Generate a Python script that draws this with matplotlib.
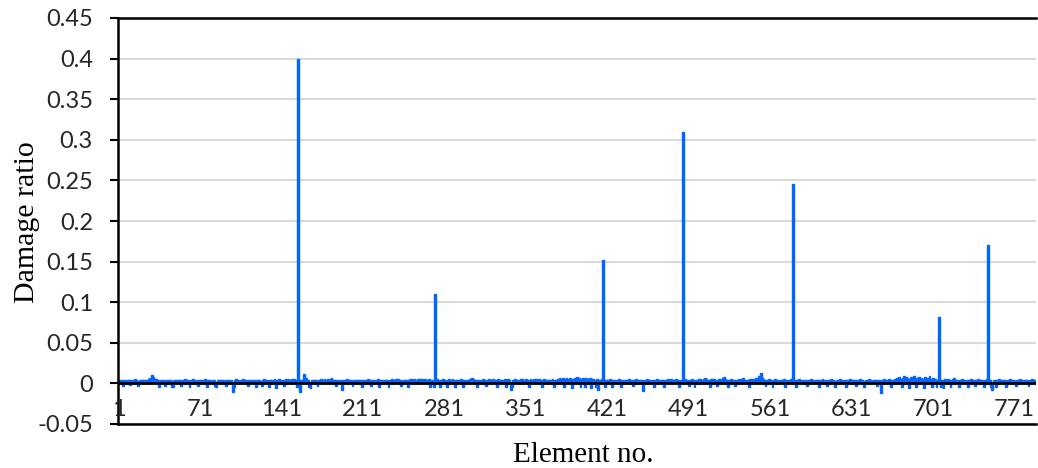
import numpy as np
import matplotlib
matplotlib.use("Agg")
import matplotlib.pyplot as plt

# small background values per element, in units of 0.001 (rough)
noise = [
    4, 4, 3, 4, -3, 4, 4, 3, 4, 4, -2, 4, 4, 4, 5, 4, 3, -3, 4, 4, 4, 4, 3, 4, 4, 4, 5, 7, 4, 10,
    8, 5, 6, 4, 4, -4, 4, 4, 4, 3, -3, 4, 4, 4, 4, 3, -4, -5, 4, 4, 4, 3, 4, 4, -3, 4, 4, 5, 4, 4,
    4, -4, 4, 4, 5, 4, 3, 4, -3, 4, 4, 4, 3, 4, 5, 4, -4, 4, 4, 4, 3, 4, 4, -3, -4, 4, 4, 4, 3, 4,
    4, 4, -3, 4, 4, 3, 4, 4, -10, -4, 4, 5, 4, 4, 3, 4, 4, 5, 4, 4, 4, -3, 4, 4, 3, 4, 4, 4, -4, 4,
    4, 4, 3, -3, 4, 5, 4, 4, 4, -4, 4, 4, 3, 4, 5, -6, 4, 4, 5, 4, 4, 4, -3, 4, 5, 4, 6, 4, 4, 6,
    4, 5, 4, -5, 0, 4, -10, 4, 4, 11, 5, 7, 4, 4, -4, -6, 4, 4, 3, 4, 4, -3, 4, 4, 5, 4, 4, 6, 4, 4,
    5, 4, 6, 7, 4, 4, 4, -3, 4, 4, 3, 4, -8, 4, 4, 4, 5, 4, 3, 4, 4, -3, 4, 4, 4, 3, 4, 4, 4, -4,
    4, 4, 3, 4, 5, 4, 4, -3, 4, 4, 3, 4, 4, 5, -5, 4, 4, 4, 3, 4, 4, 4, -4, 4, 4, 5, 4, 4, 5, 6,
    6, 4, 4, -3, 4, 4, 3, 4, 4, -4, 5, 6, 4, 4, 5, 4, 4, 6, 5, 4, 6, 5, 4, 6, 4, 4, 4, 5, -4, 4,
    4, -5, 0, 4, 5, 4, -5, 4, 4, 6, 4, 4, -4, 4, 5, 4, 4, 6, 4, -5, 4, 4, 4, 3, 5, 4, -4, 4, 4, 4,
    4, 4, 5, 6, 7, 5, 4, 4, -4, 4, 4, 3, 4, 5, 4, 4, -3, 4, 5, 4, 4, 4, 6, 4, 4, -4, 5, 4, 4, 4,
    4, 4, 5, -4, 4, 6, 4, -8, -5, 4, 4, 5, 4, 4, 3, 4, 6, 5, 4, 4, 6, 4, 4, -4, 5, 4, 4, 6, 4, 5,
    4, 6, 4, 4, -4, 4, 5, 4, 4, 4, 3, 4, 4, 5, -5, 4, 4, 4, 6, 7, 5, 6, 7, -5, 5, 7, 6, 4, 7, 6,
    -6, 6, 7, 5, 8, 6, 7, -5, 5, 7, 6, -5, 7, 6, 5, 7, -6, 6, 5, 4, -5, 5, -8, 4, 4, 5, 0, 4, -4, 4,
    4, 4, 5, 4, -4, 4, 4, 3, 4, 4, 5, 4, -4, 4, 4, 4, 3, 4, 4, 5, 4, 4, -3, 4, 4, 5, 4, 4, 3, 4,
    4, -9, 4, 4, 5, 4, 4, 4, 3, 4, -4, 4, 4, 5, 4, 4, 3, 4, 4, -4, 4, 4, 5, 4, 4, 6, 4, 4, 4, 5,
    4, 4, -4, 4, 4, 0, 4, 5, 4, 4, -3, 4, 4, 5, 4, -5, 4, 4, 4, 5, 6, 4, 4, 5, 7, 6, 4, 4, -4, 5,
    4, 6, 5, 4, -3, 4, 5, 6, 4, 7, 8, 5, 4, 4, -4, 4, 5, 4, 4, 4, -3, 4, 4, 5, 4, 4, 5, 7, 4, 4,
    4, 4, -4, 5, 6, 4, 5, 6, 7, 4, 9, 9, 13, 7, 5, 4, -3, 4, 4, 5, 4, 4, -4, 4, 5, 4, 4, 3, 4, 4,
    4, 4, 5, -4, 4, 4, 3, 4, 5, 4, 0, 4, -5, 4, 4, 5, 4, 4, 4, 3, 4, 4, -3, 4, 4, 5, 4, 4, 3, 4,
    4, 4, -4, 4, 4, 5, 4, 3, 4, -3, 4, 4, 5, 4, 4, 3, -4, 4, 4, 4, 5, 4, 4, 3, 4, -4, 4, 4, 4, 5,
    4, 4, 3, 4, -3, 4, 4, 5, 4, 4, 3, -4, 4, 4, 4, 5, 4, 4, 3, 4, 4, 4, -3, 4, 4, -12, 4, 4, 5, 4,
    4, 4, 5, 4, -4, 4, 4, 5, 6, 7, 5, 8, 6, -5, 7, 9, 6, 8, 7, -6, 6, 8, 7, 6, 9, -5, 7, 6, 8, 5,
    7, 6, -6, 8, 6, 7, 5, 9, 6, -5, 7, 5, 6, -5, 4, 0, 4, -5, 4, -6, 5, 4, 4, 6, 4, -4, 4, 5, 7, 4,
    4, 4, -4, 4, 4, 5, 4, 4, 3, 4, -4, 4, 4, 5, 4, 4, -3, 4, 4, 5, 4, 4, 4, 3, -4, 4, 5, 0, 4, 4,
    -4, -8, 4, 4, -5, 4, 4, 5, 4, 4, 3, 4, 4, -4, 4, 4, 5, 4, 4, 3, 4, -3, 4, 4, 4, 5, 4, 4, 3, 4,
    4, 4, -3, 4, 4, 5, 4, 4, 4,
]

# damaged elements and their damage ratio
spike_elements = [155, 273, 417, 486, 581, 706, 748]
spike_values = [0.400, 0.110, 0.152, 0.309, 0.245, 0.082, 0.170]

xtick_values = [1, 71, 141, 211, 281, 351, 421, 491, 561, 631, 701, 771]
ytick_values = [-0.05, 0, 0.05, 0.1, 0.15, 0.2, 0.25, 0.3, 0.35, 0.4, 0.45]
ytick_labels = ["-0.05", "0", "0.05", "0.1", "0.15", "0.2", "0.25", "0.3", "0.35", "0.4", "0.45"]

# build the series
damage = np.array(noise, dtype=float) / 1000.0
elements = np.arange(1, len(damage) + 1)
for e, v in zip(spike_elements, spike_values):
    damage[e - 1] = v

fig = plt.figure(figsize=(10.38, 4.68), dpi=100)
ax = fig.add_axes([118 / 1038, 1 - 424 / 468, 918 / 1038, 406 / 468])

# edge line fattens the ~1 px wide bars like the reference
ax.bar(elements, damage, width=1.6, color="#0066FF", edgecolor="#0066FF", linewidth=1.0, zorder=2)
ax.axhline(0, color="black", lw=2.0, zorder=3)

ax.set_xlim(0.5, len(damage) + 0.5)
ax.set_ylim(-0.05, 0.45)

# grid
ax.set_yticks(ytick_values)
ax.set_yticklabels(ytick_labels)
ax.yaxis.grid(True, color="#D9D9D9", lw=1.5, zorder=0)
ax.set_axisbelow(True)

ax.set_xticks(xtick_values)
ax.set_xticklabels([str(v) for v in xtick_values])
ax.xaxis.set_zorder(4)  # keep the "1" label on top of the left spine

for lbl in ax.get_xticklabels() + ax.get_yticklabels():
    lbl.set_fontfamily("Lato")
    lbl.set_fontsize(17)
    lbl.set_color("#262626")

ax.tick_params(axis="x", length=0, pad=-18)
ax.tick_params(axis="y", direction="out", length=6, width=1.5, pad=12)

for side in ["left", "top", "bottom"]:
    ax.spines[side].set_color("black")
    ax.spines[side].set_linewidth(1.8)
ax.spines["right"].set_visible(False)

fig.text(27 / 1038, 1 - 222 / 468, "Damage ratio", rotation=90, ha="center", va="center",
         family="Liberation Serif", fontsize=21.5)
fig.text(583 / 1038, 1 - 455 / 468, "Element no.", ha="center", va="center",
         family="Liberation Serif", fontsize=21)

fig.savefig("out.png", dpi=100)
